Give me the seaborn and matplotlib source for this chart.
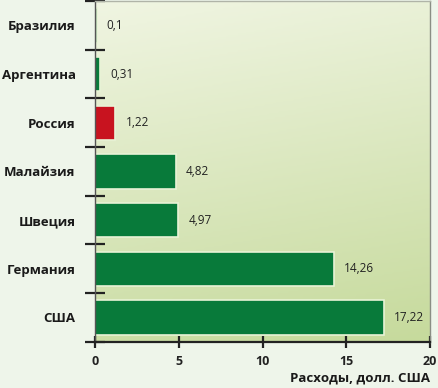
import matplotlib
matplotlib.use("Agg")
import matplotlib.pyplot as plt
from matplotlib.colors import LinearSegmentedColormap
import numpy as np
import pandas as pd
import seaborn as sns

countries = ["Бразилия", "Аргентина", "Россия", "Малайзия", "Швеция", "Германия", "США"]
spending = [0.1, 0.31, 1.22, 4.82, 4.97, 14.26, 17.22]
value_labels = ["0,1", "0,31", "1,22", "4,82", "4,97", "14,26", "17,22"]
x_ticks = [0, 5, 10, 15, 20]

green = "#087a3a"
red = "#c8131f"
colors = [red if c == "Россия" else green for c in countries]

df = pd.DataFrame({"country": countries, "spending": spending})

sns.set_style("white")
plt.rcParams["font.family"] = ["Open Sans", "DejaVu Sans"]

fig = plt.figure(figsize=(4.38, 3.88), dpi=100, facecolor="#eef5ea")
ax = fig.add_axes([0.217, 0.119, 0.765, 0.878])

# gradient background of the plot area (light at top, greener at bottom)
gx, gy = np.meshgrid(np.linspace(0, 1, 200), np.linspace(0, 1, 200))
grad = 0.85 * gy + 0.15 * gx
cmap = LinearSegmentedColormap.from_list("bg", ["#f0f5e2", "#c6da9c"])
ax.imshow(grad, cmap=cmap, extent=[0, 1, 0, 1], transform=ax.transAxes,
          aspect="auto", zorder=0, origin="upper")

sns.barplot(data=df, x="spending", y="country", hue="country", palette=colors,
            legend=False, width=0.7, orient="h", ax=ax, saturation=1,
            edgecolor="#e8f3d6", linewidth=1.2, zorder=2)

for i, (v, lab) in enumerate(zip(spending, value_labels)):
    ax.text(v + 0.6, i, lab, va="center", ha="left", fontsize=8.5,
            color="#222222", zorder=3)

ax.set_xlim(0, 20)
ax.set_ylim(len(countries) - 0.5, -0.5)
ax.set_xticks(x_ticks)
ax.set_xticklabels([str(t) for t in x_ticks], fontsize=9, fontweight="bold",
                   color="#222222")
ax.set_yticks(np.arange(len(countries)))
ax.set_yticklabels(countries, fontsize=9.5, fontweight="bold", color="#1a1a1a")
ax.set_yticks(np.arange(-0.5, len(countries)), minor=True)
ax.tick_params(axis="y", which="major", left=True, length=0, pad=14)
ax.tick_params(axis="y", which="minor", left=True, direction="inout",
               length=14, width=1.6, color="#222222")
ax.tick_params(axis="x", bottom=True, direction="inout", length=9, width=1.6,
               color="#222222", pad=5)

ax.spines["top"].set_color("#b0b4a8")
ax.spines["top"].set_linewidth(1.0)
ax.spines["right"].set_color("#8a8e84")
ax.spines["right"].set_linewidth(1.0)
ax.spines["left"].set_color("#555555")
ax.spines["left"].set_linewidth(1.0)
ax.spines["bottom"].set_color("#222222")
ax.spines["bottom"].set_linewidth(1.6)

ax.set_xlabel("")
ax.set_ylabel("")
fig.text(0.982, 0.008, "Расходы, долл. США", ha="right", va="bottom",
         fontsize=9.5, fontweight="bold", color="#1a1a1a")

fig.savefig("out.png", dpi=100, facecolor=fig.get_facecolor())
